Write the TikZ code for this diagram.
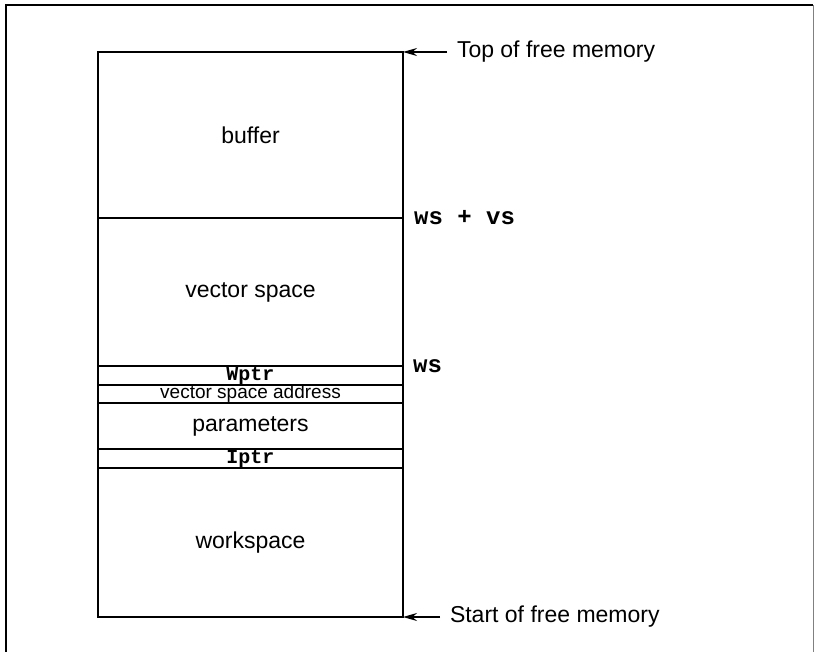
\documentclass[tikz,border=0pt]{standalone}
\usepackage{fontspec}
\setmainfont{Liberation Sans}
\setmonofont{Liberation Mono}
\usetikzlibrary{arrows.meta, positioning}

\tikzset{
    seg/.style={draw, line width=1.3pt, minimum width=305pt, inner sep=0pt, outer sep=0pt,
        font=\fontsize{23}{27}\selectfont},
    slim/.style={seg, text height=13pt, text depth=4pt},
    regname/.style={font=\ttfamily\bfseries\fontsize{20}{22}\selectfont},
    addr/.style={inner sep=0pt, font=\ttfamily\bfseries\fontsize{24}{28}\selectfont},
    note/.style={inner sep=0pt, outer xsep=10pt, anchor=west, font=\fontsize{23}{27}\selectfont},
    pointer/.style={-{Stealth[length=14pt, width=8pt]}, line width=1.3pt}
}

\begin{document}
\begin{tikzpicture}[x=1pt, y=-1pt]
    \useasboundingbox (0,0) rectangle (814,652);
    % outer frame
    \draw[line width=1.5pt] (6,652) -- (6,5) -- (813,5);
    \draw[line width=1pt, gray] (813,5) -- (813,652);

    % memory layout
    \node[seg, minimum height=166pt, anchor=north west] (buffer) at (98,52) {buffer};
    \node[seg, minimum height=148pt, below=0pt of buffer] (vspace) {vector space};
    \node[slim, minimum height=19pt, below=0pt of vspace, regname] (wptr) {Wptr};
    \node[slim, minimum height=18pt, below=0pt of wptr, font=\fontsize{19}{21}\selectfont] (vsaddr) {vector space address};
    \node[seg, minimum height=46pt, below=0pt of vsaddr] (params) {parameters};
    \node[slim, minimum height=19pt, below=0pt of params, regname] (iptr) {Iptr};
    \node[seg, minimum height=149pt, below=0pt of iptr] (wspace) {workspace};

    % addresses
    \node[addr, anchor=west, right=11pt of buffer.south east] (wsvs) {ws + vs};
    \node[addr, anchor=west, right=10pt of vspace.south east] (ws) {ws};

    % free memory limits
    \node[note] (top) at (447,52) {Top of free memory};
    \node[note] (start) at (440,617) {Start of free memory};
    \draw[pointer] (top.west) -- (buffer.north east);
    \draw[pointer] (start.west) -- (wspace.south east);
\end{tikzpicture}
\end{document}
